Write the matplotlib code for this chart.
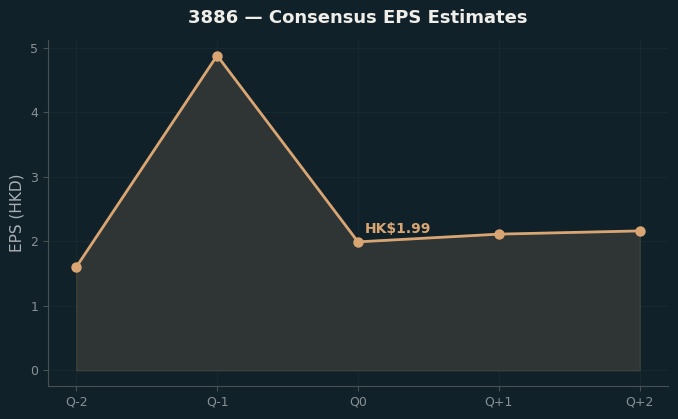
import matplotlib
matplotlib.use("Agg")
import matplotlib.pyplot as plt

# consensus eps per quarter
quarters = ["Q-2", "Q-1", "Q0", "Q+1", "Q+2"]
eps = [1.60, 4.88, 1.99, 2.11, 2.16]
current_label = "HK$1.99"

bg = "#10212a"
line_col = "#d9a673"

fig, ax = plt.subplots(figsize=(6.78, 4.19), dpi=100)
fig.patch.set_facecolor(bg)
ax.set_facecolor(bg)

x = list(range(len(quarters)))
ax.fill_between(x, eps, 0, facecolor="#2f3434", edgecolor="#3c403a", linewidth=1)
ax.plot(x, eps, color=line_col, linewidth=2, marker="o", markersize=6.5, zorder=3)

# label the current quarter
ax.annotate(current_label, (x[2], eps[2]), xytext=(5, 4), textcoords="offset points",
            color=line_col, fontsize=10, fontweight="bold", va="bottom", ha="left")

ax.set_xticks(x)
ax.set_xticklabels(quarters)
ax.set_ylabel("EPS (HKD)", color="#a9b0b3", fontsize=11)
ax.set_title("3886 — Consensus EPS Estimates", color="#f0eee8", fontsize=13,
             fontweight="bold", pad=12)

ax.grid(True, color="#17282f", linewidth=0.8)
ax.set_axisbelow(True)
for s in ["top", "right"]:
    ax.spines[s].set_visible(False)
for s in ["left", "bottom"]:
    ax.spines[s].set_color("#4a4f50")
ax.tick_params(colors="#4a4f50", labelcolor="#8a9194", labelsize=9)

plt.subplots_adjust(left=0.071, right=0.985, top=0.905, bottom=0.079)
fig.savefig("out.png", facecolor=bg)
